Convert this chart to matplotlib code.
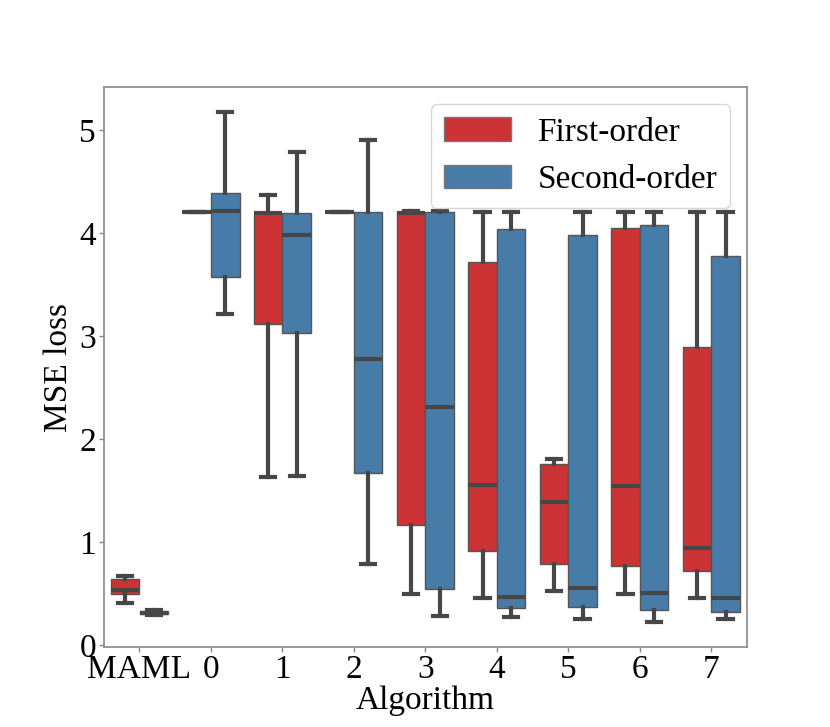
import matplotlib
matplotlib.use('Agg')
import matplotlib.pyplot as plt
import seaborn as sns

plt.rcParams['font.family'] = ['Liberation Serif', 'DejaVu Serif']
plt.rcParams['font.size'] = 24

# categories on the x axis
algorithms = ['MAML', '0', '1', '2', '3', '4', '5', '6', '7']
orders = ['First-order', 'Second-order']

# five-number summaries, one entry per algorithm
first_whislo = [0.41, 4.21, 1.63, 4.21, 0.50, 0.456, 0.526, 0.498, 0.453]
first_q1 = [0.50, 4.21, 3.116, 4.21, 1.17, 0.91, 0.79, 0.766, 0.714]
first_med = [0.533, 4.21, 4.20, 4.21, 4.195, 1.555, 1.385, 1.545, 0.94]
first_q3 = [0.64, 4.21, 4.20, 4.21, 4.205, 3.72, 1.76, 4.05, 2.90]
first_whishi = [0.675, 4.21, 4.375, 4.21, 4.215, 4.21, 1.81, 4.21, 4.21]

second_whislo = [0.29, 3.22, 1.64, 0.79, 0.28, 0.276, 0.25, 0.223, 0.248]
second_q1 = [0.30, 3.58, 3.03, 1.67, 0.54, 0.356, 0.37, 0.341, 0.317]
second_med = [0.315, 4.215, 3.98, 2.775, 2.31, 0.463, 0.555, 0.505, 0.453]
second_q3 = [0.33, 4.39, 4.20, 4.21, 4.21, 4.04, 3.98, 4.08, 3.78]
second_whishi = [0.34, 5.18, 4.79, 4.91, 4.215, 4.21, 4.21, 4.21, 4.21]


def make_stats(lo, q1, med, q3, hi):
    return [dict(whislo=a, q1=b, med=c, q3=d, whishi=e, fliers=[])
            for a, b, c, d, e in zip(lo, q1, med, q3, hi)]


stats = [
    make_stats(first_whislo, first_q1, first_med, first_q3, first_whishi),
    make_stats(second_whislo, second_q1, second_med, second_q3, second_whishi),
]

colors = sns.color_palette('Set1', 2, desat=0.75)
line_gray = '#474747'

fig, ax = plt.subplots(figsize=(8.3, 7.27), dpi=100)

width = 0.4
for k, (order_stats, color) in enumerate(zip(stats, colors)):
    offset = (k - 0.5) * width
    positions = [i + offset for i in range(len(algorithms))]
    ax.bxp(order_stats, positions=positions, widths=width * 0.999,
           patch_artist=True, showfliers=False, manage_ticks=False,
           capwidths=width / 2,
           boxprops=dict(facecolor=color, edgecolor='#555555', linewidth=1.0),
           whiskerprops=dict(color=line_gray, linewidth=3),
           capprops=dict(color=line_gray, linewidth=3),
           medianprops=dict(color=line_gray, linewidth=3))

ax.set_xticks(range(len(algorithms)))
ax.set_xticklabels(algorithms)
ax.set_xlim(-0.5, len(algorithms) - 0.5)
ax.set_ylim(-0.02, 5.42)
ax.set_yticks([0, 1, 2, 3, 4, 5])

for spine in ax.spines.values():
    spine.set_color('#888888')
    spine.set_linewidth(1.2)
ax.tick_params(color='#888888', length=3.5, width=1, pad=2)

ax.set_xlabel('Algorithm', labelpad=0)
ax.set_ylabel('MSE loss')

handles = [matplotlib.patches.Patch(facecolor=c, edgecolor='#777777', label=l)
           for c, l in zip(colors, orders)]
ax.legend(handles=handles, loc='upper right', fontsize=24)

fig.subplots_adjust(left=0.125, right=0.9, top=0.88, bottom=0.11)
fig.savefig('out.png', dpi=100)
